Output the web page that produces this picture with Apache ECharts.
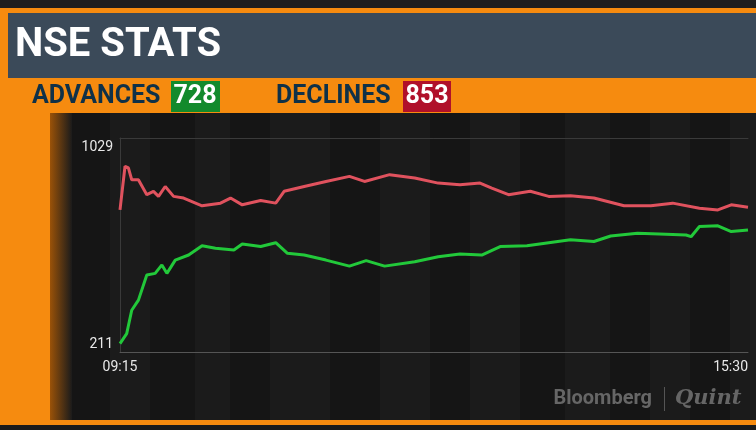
<!DOCTYPE html>
<html><head><meta charset="utf-8">
<script src="https://cdn.jsdelivr.net/npm/echarts@6/dist/echarts.min.js"></script>
<style>html,body{margin:0;padding:0;background:#1a1a1a}#c{width:756px;height:430px}</style>
</head><body><div id="c"></div>
<script>
const xLabels = ['09:15', '15:30'];
const yLabels = ['1029', '211'];
const declinesMin = [0,3,5,7,11,16,20,23,27,32,38,49,60,66,73,84,93,98,110,123,137,146,161,176,190,203,215,222,232,245,256,269,283,301,317,330,346,357,365,375];
const declinesVal = [768,949,942,893,893,831,845,824,865,824,817,785,796,817,789,807,796,845,865,886,907,886,914,900,879,872,879,858,831,845,824,827,817,785,785,796,775,768,789,779];
const advancesMin = [0,4,7,11,16,21,25,28,33,41,49,57,68,73,84,93,100,110,123,137,147,158,176,190,203,216,227,243,256,269,283,293,309,322,338,341,346,357,365,375];
const advancesVal = [214,255,352,394,498,505,540,505,560,581,619,609,602,627,616,632,588,581,560,535,558,535,553,574,585,581,616,619,632,644,637,660,671,668,664,657,699,702,678,685];
const advancesCount = '728', declinesCount = '853';

const chart = echarts.init(document.getElementById('c'));
const stripes = [];
[[70,40],[150,45],[230,40],[330,50],[430,40],[520,45],[610,40],[690,40]].forEach(([x,w])=>stripes.push({type:'rect',z:-10,shape:{x:x,y:113,width:w,height:307},style:{fill:'#151515'}}));
const F = 'Roboto, "Noto Sans", sans-serif';
chart.setOption({
  backgroundColor:'#1b1b1b',
  animation:false,
  grid:{left:120,right:8,top:138,bottom:78},
  xAxis:[{type:'value',min:0,max:375,interval:375,
    axisLine:{lineStyle:{color:'#555',width:1}},axisTick:{show:false},splitLine:{show:false},
    axisLabel:{color:'#e8e8e8',fontFamily:F,fontSize:14,margin:8,formatter:v=>v===0?xLabels[0]:xLabels[1],alignMinLabel:'center',alignMaxLabel:'right'}},
    {type:'value',position:'top',min:0,max:375,axisLine:{lineStyle:{color:'#3a3a3a'}},axisTick:{show:false},axisLabel:{show:false},splitLine:{show:false}}],
  yAxis:{type:'value',min:179,max:1066,axisLine:{show:true,lineStyle:{color:'#3a3a3a'}},axisTick:{show:false},axisLabel:{show:false},splitLine:{show:false}},
  series:[
    {type:'line',data:declinesMin.map((m,i)=>[m,declinesVal[i]]),symbol:'none',lineStyle:{color:'#e0525e',width:3},z:3},
    {type:'line',data:advancesMin.map((m,i)=>[m,advancesVal[i]]),symbol:'none',lineStyle:{color:'#22c93a',width:3},z:3}
  ],
  graphic:[
    ...stripes,
    {type:'rect',z:-5,shape:{x:0,y:0,width:756,height:8},style:{fill:'#1e1e1e'}},
    {type:'rect',z:-5,shape:{x:0,y:8,width:756,height:105},style:{fill:'#f68b0f'}},
    {type:'rect',z:-4,shape:{x:8,y:13,width:748,height:65},style:{fill:'#3b4a59'}},
    {type:'rect',z:-5,shape:{x:0,y:113,width:50,height:307},style:{fill:'#f68b0f'}},
    {type:'rect',z:-5,shape:{x:50,y:113,width:22,height:307},style:{fill:new echarts.graphic.LinearGradient(0,0,1,0,[{offset:0,color:'#9a5208'},{offset:1,color:'#1b1b1b'}])}},
    {type:'rect',z:-5,shape:{x:0,y:420,width:756,height:5},style:{fill:'#f68b0f'}},
    {type:'text',style:{x:15,y:46,text:'NSE STATS',fill:'#fff',font:'bold 40px '+F,verticalAlign:'middle'}},
    {type:'text',style:{x:32,y:97,text:'ADVANCES',fill:'#0f3148',font:'bold 25px '+F,verticalAlign:'middle'}},
    {type:'rect',shape:{x:171,y:81,width:49,height:31},style:{fill:'#128a2c'}},
    {type:'text',style:{x:195,y:97,text:advancesCount,fill:'#fff',font:'bold 25px '+F,align:'center',verticalAlign:'middle'}},
    {type:'text',style:{x:276,y:97,text:'DECLINES',fill:'#0f3148',font:'bold 25px '+F,verticalAlign:'middle'}},
    {type:'rect',shape:{x:403,y:81,width:48,height:31},style:{fill:'#b0102a'}},
    {type:'text',style:{x:427,y:97,text:declinesCount,fill:'#fff',font:'bold 25px '+F,align:'center',verticalAlign:'middle'}},
    {type:'text',style:{x:113,y:147,text:yLabels[0],fill:'#e8e8e8',font:'14px '+F,align:'right',verticalAlign:'middle'}},
    {type:'text',style:{x:113,y:344,text:yLabels[1],fill:'#e8e8e8',font:'14px '+F,align:'right',verticalAlign:'middle'}},
    {type:'text',style:{x:652,y:399,text:'Bloomberg',fill:'#666',font:'bold 20px '+F,align:'right',verticalAlign:'middle'}},
    {type:'rect',shape:{x:664,y:387,width:1,height:24},style:{fill:'#555'}},
    {type:'text',style:{x:675,y:399,text:'Quint',fill:'#666',font:'italic bold 21px "DejaVu Serif", serif',verticalAlign:'middle'}}
  ]
});
</script></body></html>
